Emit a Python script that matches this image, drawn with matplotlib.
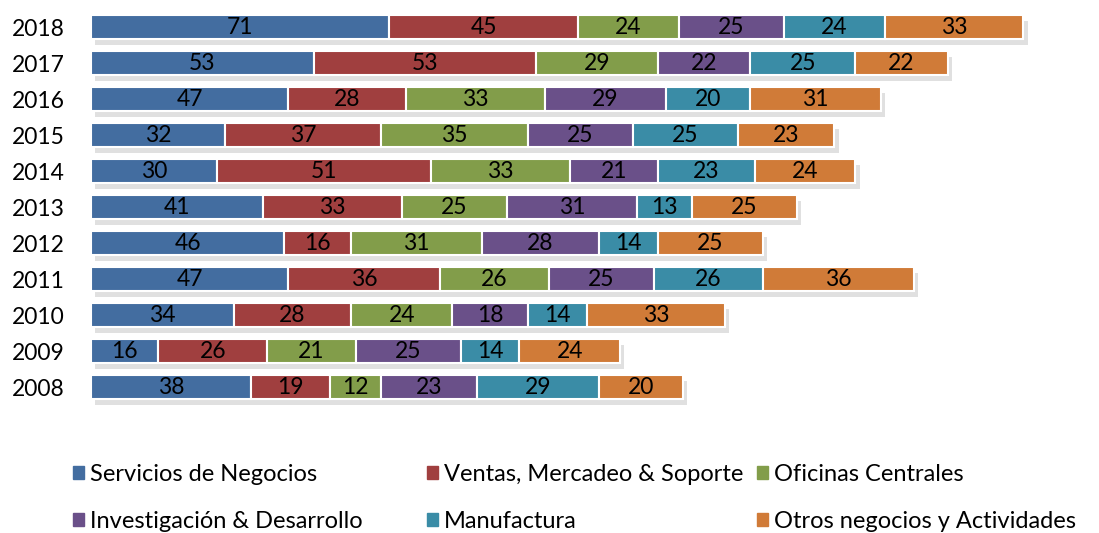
import numpy as np
import matplotlib.pyplot as plt
import matplotlib.patheffects as pe
from matplotlib.patches import Patch

years = ['2008', '2009', '2010', '2011', '2012', '2013', '2014', '2015', '2016', '2017', '2018']
series = ['Servicios de Negocios', 'Ventas, Mercadeo & Soporte', 'Oficinas Centrales',
          'Investigación & Desarrollo', 'Manufactura', 'Otros negocios y Actividades']
colors = ['#436DA0', '#A03F3F', '#829D4A', '#6A5089', '#3A8CA6', '#D07B38']

servicios     = [38, 16, 34, 47, 46, 41, 30, 32, 47, 53, 71]
ventas        = [19, 26, 28, 36, 16, 33, 51, 37, 28, 53, 45]
oficinas      = [12, 21, 24, 26, 31, 25, 33, 35, 33, 29, 24]
investigacion = [23, 25, 18, 25, 28, 31, 21, 25, 29, 22, 25]
manufactura   = [29, 14, 14, 26, 14, 13, 23, 25, 20, 25, 24]
otros         = [20, 24, 33, 36, 25, 25, 24, 23, 31, 22, 33]
values = [servicios, ventas, oficinas, investigacion, manufactura, otros]

plt.rcParams['font.family'] = ['Lato', 'DejaVu Sans']

fig = plt.figure(figsize=(10.99, 5.33), dpi=100)
ax = fig.add_axes([0.0828, 0.240, 0.9172, 0.743])

y = np.arange(len(years))
left = np.zeros(len(years))
shadow = [pe.SimplePatchShadow(offset=(3, -4), shadow_rgbFace='#999999', alpha=0.3), pe.Normal()]
for vals, col, name in zip(values, colors, series):
    vals = np.array(vals)
    bars = ax.barh(y, vals, left=left, height=0.67, color=col, edgecolor='white',
                   linewidth=1.5, label=name)
    for b in bars:
        b.set_path_effects(shadow)
    for yi, l, v in zip(y, left, vals):
        ax.text(l + v / 2, yi, str(v), ha='center', va='center', fontsize=16.5, color='black')
    left += vals

ax.set_xlim(0, 240)
ax.set_ylim(-0.5, len(years) - 0.5)
ax.set_yticks(y)
ax.set_yticklabels(years, fontsize=16.5)
ax.tick_params(axis='y', length=0, pad=19)
ax.set_xticks([])
for s in ax.spines.values():
    s.set_visible(False)

# legend: three columns placed like the original (row-wise order)
handles = [Patch(color=c) for c in colors]
col_x = [73, 427, 757]
for k, x in enumerate(col_x):
    idx = [k, k + 3]
    fig.legend([handles[i] for i in idx], [series[i] for i in idx],
               loc='upper left', bbox_to_anchor=(x / 1099, 0.13), frameon=False,
               borderpad=0, borderaxespad=0,
               fontsize=17, handlelength=0.45, handleheight=0.45, handletextpad=0.25,
               labelspacing=1.1)

fig.savefig('out.png', dpi=100)
